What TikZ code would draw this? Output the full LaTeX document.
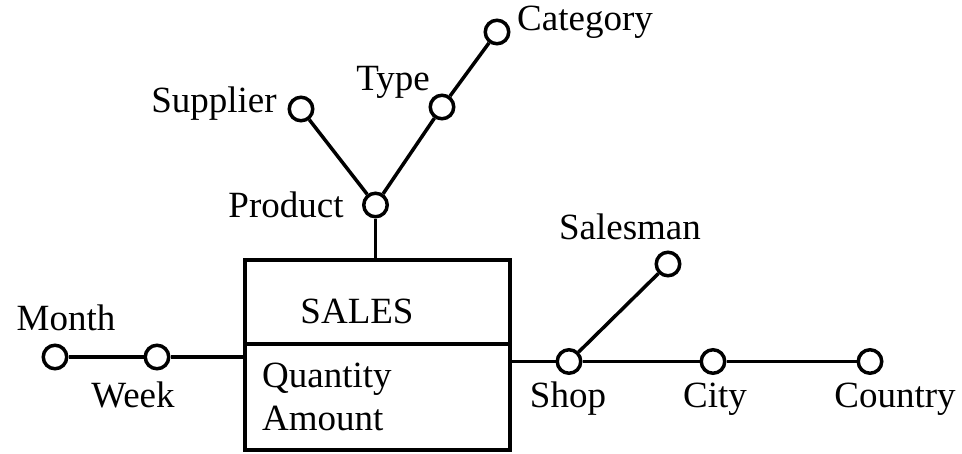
\documentclass[tikz,border=0pt]{standalone}
\usepackage{fontspec}
\setmainfont{Liberation Serif}
\begin{document}
\begin{tikzpicture}[x=1pt,y=-1pt,
  every node/.style={font=\fontsize{37}{44}\selectfont},
  dim/.style={circle,draw,line width=3.5pt,minimum size=23.5pt,inner sep=0pt},
  lbl/.style={anchor=base,inner sep=0pt},
  link/.style={line width=3.5pt}]
\useasboundingbox (0,0) rectangle (962,453);

% fact table
\node (box) [draw,line width=3.5pt,minimum width=265pt,minimum height=190pt,inner sep=0pt] at (377.5,355) {};
\coordinate (divl) at (245,344);
\coordinate (divr) at (510,344);
\draw[link] (divl) -- (divr);
\node[lbl] (sales) at (357,323) {SALES};
\node[lbl,anchor=base west] (qty) at (262,387) {Quantity};
\node[lbl,anchor=base west] (amt) at (262,430) {Amount};

% dimension levels
\node[dim] (prod) at (375.5,205) {};
\node[dim] (supp) at (301,109) {};
\node[dim] (type) at (442,107) {};
\node[dim] (cat)  at (497,32) {};
\node[dim] (week) at (157,357) {};
\node[dim] (month) at (55,357) {};
\node[dim] (shop) at (569,361.5) {};
\node[dim] (city) at (713,361.5) {};
\node[dim] (ctry) at (870,361.5) {};
\node[dim] (sman) at (668,264) {};

% connectors
\draw[link] (prod) -- (prod |- box.north);
\draw[link] (prod) -- (supp);
\draw[link] (prod) -- (type);
\draw[link] (type) -- (cat);
\draw[link] (week) -- (week -| box.west);
\draw[link] (month) -- (week);
\draw[link] (shop -| box.east) -- (shop);
\draw[link] (shop) -- (city);
\draw[link] (city) -- (ctry);
\draw[link] (shop) -- (sman);

% labels
\node[lbl] (lcat) at (585,30) {Category};
\node[lbl] (ltype) at (393,90) {Type};
\node[lbl] (lsupp) at (214,112) {Supplier};
\node[lbl] (lprod) at (286,217) {Product};
\node[lbl] (lsman) at (630,239) {Salesman};
\node[lbl] (lmonth) at (66,330) {Month};
\node[lbl] (lweek) at (133,407) {Week};
\node[lbl] (lshop) at (568,407) {Shop};
\node[lbl] (lcity) at (715,407) {City};
\node[lbl] (lctry) at (895,407) {Country};
\end{tikzpicture}
\end{document}
